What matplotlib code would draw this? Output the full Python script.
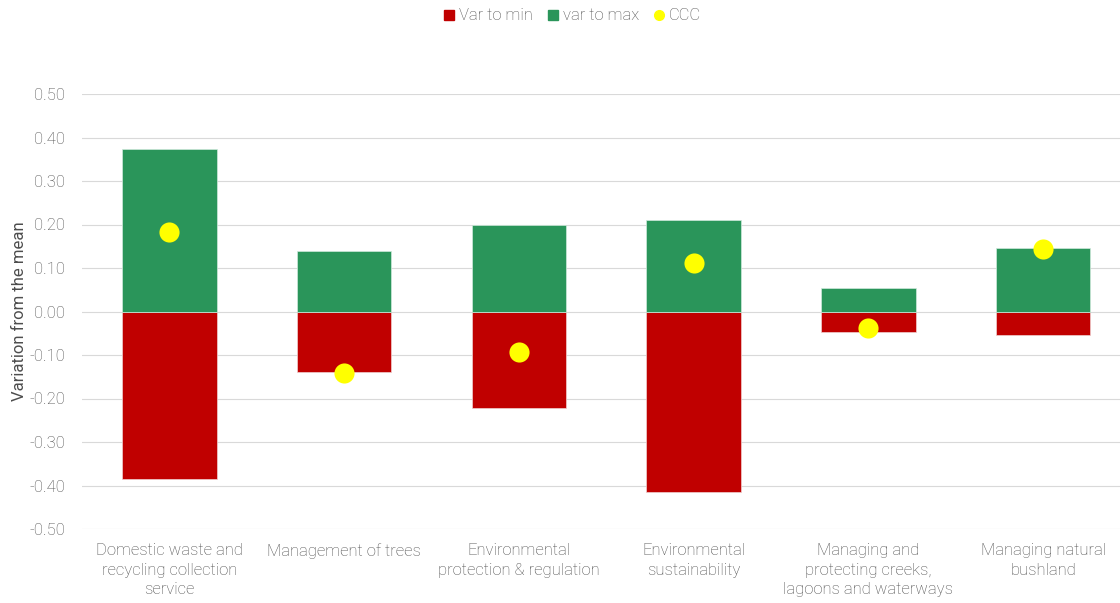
import matplotlib
matplotlib.use("Agg")
import matplotlib.pyplot as plt
import numpy as np

categories = ["Domestic waste and\nrecycling collection\nservice",
              "Management of trees",
              "Environmental\nprotection & regulation",
              "Environmental\nsustainability",
              "Managing and\nprotecting creeks,\nlagoons and waterways",
              "Managing natural\nbushland"]
var_to_min = [-0.385, -0.140, -0.221, -0.416, -0.048, -0.055]
var_to_max = [0.374, 0.140, 0.200, 0.211, 0.055, 0.145]
ccc = [0.182, -0.141, -0.092, 0.111, -0.039, 0.144]
yticks = [-0.5, -0.4, -0.3, -0.2, -0.1, 0.0, 0.1, 0.2, 0.3, 0.4, 0.5]

plt.rcParams['font.family'] = ['Roboto', 'DejaVu Sans']
plt.rcParams['font.weight'] = 'light'

fig = plt.figure(figsize=(11.2, 6.03), dpi=100)
ax = fig.add_axes([82/1120, 1 - 529/603, (1120-82)/1120, (529-94)/603])

x = np.arange(len(categories))
w = 0.54
ax.bar(x, var_to_min, width=w, color="#C00000", edgecolor="#f0d0d0", linewidth=0.5, label="Var to min", zorder=2)
ax.bar(x, var_to_max, width=w, color="#2A955A", edgecolor="#d0eadc", linewidth=0.5, label="var to max", zorder=2)
ax.scatter(x, ccc, s=210, color="#FFFF00", zorder=3, label="CCC", linewidths=0)

ax.set_ylim(-0.5, 0.5)
ax.set_xlim(-0.5, 5.44)
ax.set_yticks(yticks)
ax.set_yticklabels([f"{v:.2f}" for v in yticks])
ax.set_xticks(x)
ax.set_xticklabels(categories, linespacing=1.4)
ax.tick_params(axis='both', length=0, labelsize=12, labelcolor="#4d4d4d", pad=12)
ax.tick_params(axis='x', pad=10)
ax.grid(axis='y', color="#d9d9d9", linewidth=0.8, zorder=0)
ax.set_axisbelow(True)
for s in ax.spines.values():
    s.set_visible(False)
ax.set_ylabel("Variation from the mean", fontsize=12, color="#4d4d4d")
ax.yaxis.set_label_coords(-0.053, 0.5)

handles = [
    plt.Line2D([], [], marker='s', linestyle='none', color="#C00000", markersize=6.5),
    plt.Line2D([], [], marker='s', linestyle='none', color="#2A955A", markersize=6.5),
    plt.Line2D([], [], marker='o', linestyle='none', color="#FFFF00", markersize=7),
]
fig.legend(handles, ["Var to min", "var to max", "CCC"], loc='center', bbox_to_anchor=(0.509, 1 - 16/603),
           ncol=3, frameon=False, fontsize=12, labelcolor="#4d4d4d", handletextpad=0.0,
           columnspacing=0.6, handlelength=1.2)

fig.savefig("out.png", dpi=100)
